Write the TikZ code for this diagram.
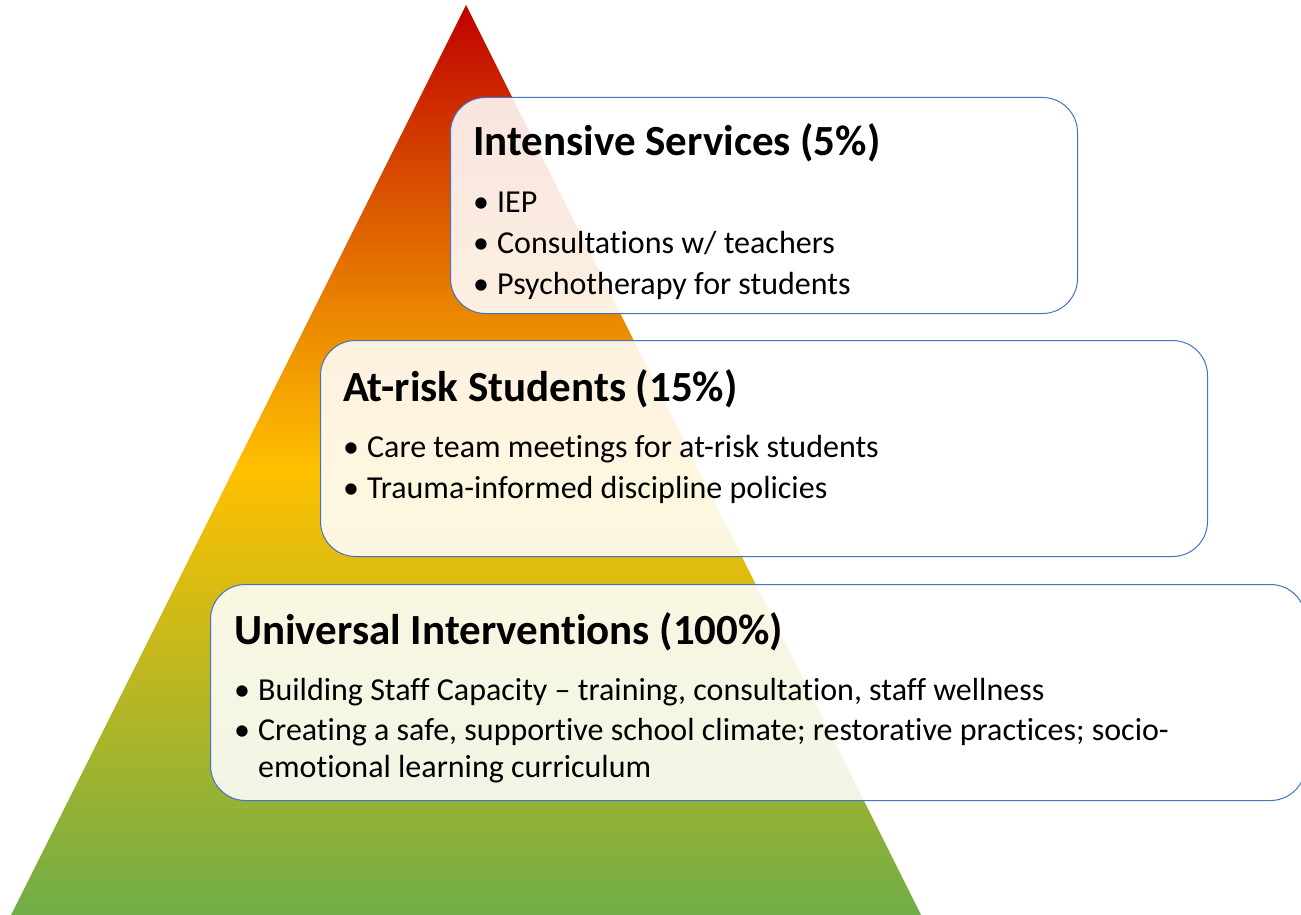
\documentclass[tikz,border=0pt]{standalone}
\usepackage{fontspec}
\setmainfont{Carlito}[RawFeature={-liga;-clig;-calt;-dlig}]
\definecolor{tred}{HTML}{C00000}
\definecolor{torange}{HTML}{E98300}
\definecolor{tyellow}{HTML}{FFC000}
\definecolor{tgreen}{HTML}{70AD47}
\definecolor{tblue}{HTML}{4472C4}
% vertical colour ramp of the pyramid (bottom to top)
\pgfdeclareverticalshading{pyramid}{100bp}{color(0bp)=(tgreen); color(25bp)=(tgreen); color(49.5bp)=(tyellow); color(58.5bp)=(torange); color(75bp)=(tred); color(100bp)=(tred)}
\newcommand\bul{\makebox[24pt][l]{•}}
% plain t + i, kept apart so the font does not join them
\newcommand\ti{t\kern0pt i}
\tikzset{
  tier/.style={draw=tblue, line width=1pt, fill=white, fill opacity=0.88,
    rounded corners=35pt, inner sep=0pt, anchor=north west},
  tiertitle/.style={font=\bfseries\fontsize{43}{50}\selectfont, anchor=base west, inner sep=0pt},
  tieritem/.style={font=\fontsize{32}{39}\selectfont, anchor=base west, inner sep=0pt}
}
\begin{document}
\begin{tikzpicture}[x=1pt,y=-1pt]
\useasboundingbox (0,0) rectangle (1301,915);
\clip (0,0) rectangle (1301,915);
% pyramid
\path[shading=pyramid] (466,5) -- (921,915) -- (11,915) -- cycle;
% tier boxes
\node[tier, minimum width=627, minimum height=216] (box1) at (450,97) {};
\node[tier, minimum width=887, minimum height=216] (box2) at (320,340) {};
\node[tier, minimum width=1095, minimum height=216] (box3) at (210,584) {};
% top tier
\node[tiertitle] (t1) at (473,156) {Intensive Services (5\%)};
\node[tieritem] (i11) at (473,212) {\bul IEP};
\node[tieritem] (i12) at (473,253) {\bul Consulta\ti ons w/ teachers};
\node[tieritem] (i13) at (473,294) {\bul Psychotherapy for students};
% middle tier
\node[tiertitle] (t2) at (343,401) {At-risk Students (15\%)};
\node[tieritem] (i21) at (343,457) {\bul Care team mee\ti ngs for at-risk students};
\node[tieritem] (i22) at (343,498) {\bul Trauma-informed discipline policies};
% bottom tier
\node[tiertitle] (t3) at (234,644) {Universal Interven\ti ons (100\%)};
\node[tieritem] (i31) at (234,700) {\bul Building Staff Capacity -- training, consulta\ti on, staff wellness};
\node[tieritem] (i32) at (234,740) {\bul Crea\ti ng a safe, suppor\ti ve school climate; restora\ti ve prac\ti ces; socio-};
\node[tieritem] (i33) at (258,777) {emo\ti onal learning curriculum};
\end{tikzpicture}
\end{document}
